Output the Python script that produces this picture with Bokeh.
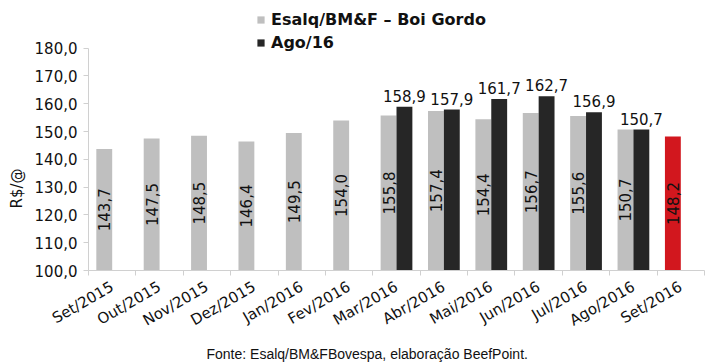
import math
from bokeh.plotting import figure
from bokeh.models import (ColumnDataSource, Range1d, FixedTicker, Title, Legend, LegendItem)
from bokeh.core.properties import value
from bokeh.embed import file_html
from bokeh.resources import INLINE

months = ["Set/2015", "Out/2015", "Nov/2015", "Dez/2015", "Jan/2016", "Fev/2016", "Mar/2016",
          "Abr/2016", "Mai/2016", "Jun/2016", "Jul/2016", "Ago/2016", "Set/2016"]
esalq = [143.7, 147.5, 148.5, 146.4, 149.5, 154.0, 155.8, 157.4, 154.4, 156.7, 155.6, 150.7, 148.2]
ago16_months = ["Mar/2016", "Abr/2016", "Mai/2016", "Jun/2016", "Jul/2016", "Ago/2016"]
ago16 = [158.9, 157.9, 161.7, 162.7, 156.9, 150.7]
y_ticks = [100, 110, 120, 130, 140, 150, 160, 170, 180]
y_tick_labels = ["100,0", "110,0", "120,0", "130,0", "140,0", "150,0", "160,0", "170,0", "180,0"]
series_names = ["Esalq/BM&F \u2013 Boi Gordo", "Ago/16"]
y_label = "R$/@"
source_note = "Fonte: Esalq/BM&FBovespa, elaboração BeefPoint."

GRAY = "#bfbfbf"
DARK = "#262626"
RED = "#d2171e"
FONT = "DejaVu Sans"
BW = 0.335
Y0 = y_ticks[0]
Y1 = y_ticks[-1]
# frame spans the full top margin so the legend (drawn inside it) is not clipped;
# 180 sits 48px below the frame top (224px for 100..180 within a 272px frame)
Y_TOP = Y0 + (Y1 - Y0) * 272 / 224

def fmt(v):
    return f"{v:.1f}".replace(".", ",")

n = len(months)
centers = [i + 0.5 for i in range(n)]
bounds = [i for i in range(n + 1)]

g_src = ColumnDataSource(dict(
    x=[c - BW / 2 for c in centers],
    top=esalq,
    mid=[(Y0 + v) / 2 for v in esalq],
    label=[fmt(v) for v in esalq],
    color=[GRAY] * (n - 1) + [RED],
))
d_x = [months.index(m) + 0.5 + BW / 2 for m in ago16_months]
d_src = ColumnDataSource(dict(x=d_x, top=ago16, label=[fmt(v) for v in ago16]))

p = figure(width=712, height=364, output_backend="svg", toolbar_location=None,
           x_range=Range1d(0, n), y_range=Range1d(Y0, Y_TOP),
           min_border_left=84, min_border_right=8, min_border_top=0, min_border_bottom=92)
p.outline_line_color = None
p.xgrid.visible = False
p.ygrid.visible = False
p.background_fill_color = "white"

rg = p.vbar(x="x", top="top", bottom=Y0, width=BW, source=g_src, fill_color="color",
            line_color=None)
rd = p.vbar(x="x", top="top", bottom=Y0, width=BW, source=d_src, fill_color=DARK,
            line_color=None)

p.text(x="x", y="mid", text="label", source=g_src, angle=math.pi / 2,
       text_align="center", text_baseline="middle", text_font=value(FONT),
       text_font_size="15px", text_color="#111111")
p.text(x="x", y="top", text="label", source=d_src, y_offset=-5,
       text_align="center", text_baseline="bottom", text_font=value(FONT),
       text_font_size="15px", text_color="#111111")

# y axis
ya = p.yaxis[0]
ya.ticker = FixedTicker(ticks=y_ticks)
ya.bounds = (Y0, Y1)
ya.major_label_overrides = {t: l for t, l in zip(y_ticks, y_tick_labels)}
ya.axis_line_color = "#d0d0d0"
ya.major_tick_line_color = "#d0d0d0"
ya.major_tick_out = 5
ya.major_tick_in = 0
ya.minor_tick_line_color = None
ya.major_label_text_font = FONT
ya.major_label_text_font_size = "15px"
ya.major_label_text_color = "#111111"
ya.major_label_standoff = 6

# x axis
xa = p.xaxis[0]
xa.ticker = FixedTicker(ticks=centers, minor_ticks=bounds)
xa.major_label_overrides = {c: m for c, m in zip(centers, months)}
xa.axis_line_color = "#d0d0d0"
xa.major_tick_line_color = None
xa.major_tick_out = 0
xa.major_tick_in = 0
xa.minor_tick_line_color = "#d0d0d0"
xa.minor_tick_out = 5
xa.minor_tick_in = 0
xa.major_label_orientation = math.pi / 6
xa.major_label_text_font = FONT
xa.major_label_text_font_size = "15px"
xa.major_label_text_color = "#111111"
xa.major_label_standoff = 10

p.add_layout(Title(text=y_label, align="left", offset=62, standoff=11,
                   text_font=FONT, text_font_size="15px", text_font_style="normal",
                   text_color="#111111"), "left")
p.add_layout(Title(text=source_note, align="left", offset=118, standoff=6,
                   text_font="Liberation Sans", text_font_size="14px",
                   text_font_style="normal", text_color="#111111"), "below")

legend = Legend(items=[LegendItem(label=series_names[0], renderers=[rg], index=0),
                       LegendItem(label=series_names[1], renderers=[rd])],
                location=(168, 218), orientation="vertical",
                glyph_width=9, glyph_height=9, label_standoff=6, spacing=4,
                padding=0, margin=0, border_line_color=None, background_fill_alpha=0,
                label_text_font=FONT, label_text_font_size="16px",
                label_text_font_style="bold", label_text_color="#111111")
p.add_layout(legend, "center")

open("out.html", "w").write(file_html(p, INLINE))
